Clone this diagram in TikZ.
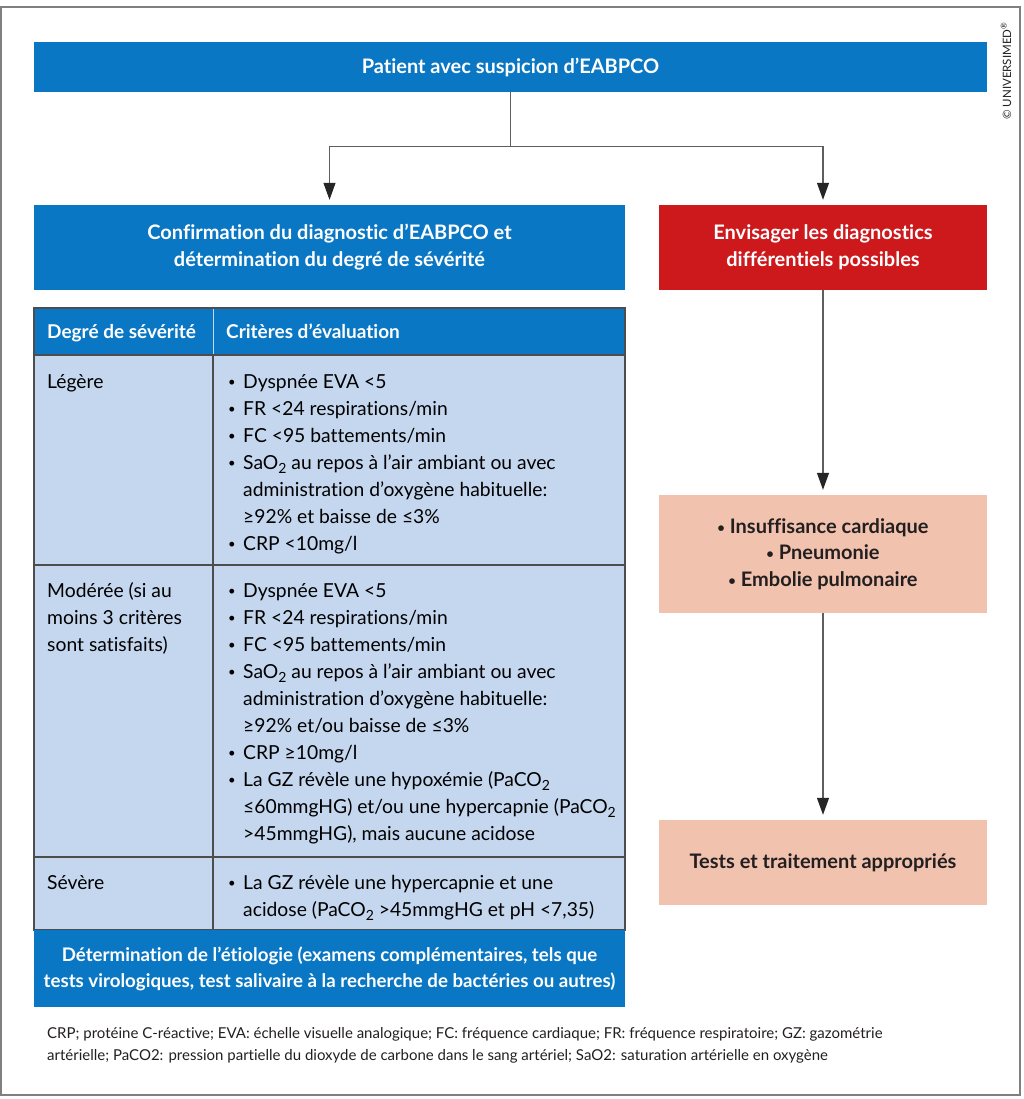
\documentclass[tikz,border=0pt]{standalone}
\usepackage{fontspec}
\setmainfont{Lato}[Ligatures=CommonOff]
\usetikzlibrary{arrows.meta}

\definecolor{hdblue}{HTML}{0A77C4}
\definecolor{cellblue}{HTML}{C5D7EF}
\definecolor{diffred}{HTML}{CD181C}
\definecolor{salmon}{HTML}{F1C2AE}
\definecolor{rulegray}{HTML}{4D4D4D}
\definecolor{linkgray}{HTML}{5E5E5E}
\definecolor{darktext}{HTML}{231F20}

\newcommand{\lowtwo}{\raisebox{-0.45ex}{\fontsize{14}{14}\selectfont 2}}
\newcommand{\smalldot}{\raisebox{0.12ex}{\fontsize{13}{13}\selectfont •}}
\newcommand{\bul}{\makebox[15pt][l]{\smalldot}}
\newcommand{\ind}{\hspace*{15pt}}
\newcommand{\celllines}[1]{\begin{tabular}[t]{@{}l@{}}#1\end{tabular}}

\begin{document}
\begin{tikzpicture}
    [
      x=1pt, y=-1pt,
      every node/.style={inner sep=0pt},
      titlefont/.style={font=\bfseries\fontsize{20}{27}\selectfont},
      bluebox/.style={titlefont, fill=hdblue, text=white, align=center},
      redbox/.style={titlefont, fill=diffred, text=white, align=center},
      pinkbox/.style={titlefont, fill=salmon, text=darktext, align=center},
      celltext/.style={font=\fontsize{19.3}{27}\selectfont, anchor=base west, text=black},
      headtext/.style={font=\bfseries\fontsize{19}{27}\selectfont, text=white, anchor=base west},
      cellrule/.style={draw=rulegray, line width=1.4pt},
      link/.style={draw=linkgray, line width=1.1pt},
      flow/.style={link, -{Triangle[length=17pt,width=12pt,color=black!85]}, shorten >=5pt},
    ]
    \useasboundingbox (0,0) rectangle (1024,1099);
    \draw[gray, line width=1.2pt] (1,7) rectangle (1020,1095);

    \node[rotate=90, font=\fontsize{11.5}{11.5}\selectfont, text=darktext] (copy) at (1006,71) {© UNIVERSIMED\textsuperscript{®}};

    % boxes
    \node[bluebox, minimum width=953pt, minimum height=50pt] (suspicion) at (510.5,67) {Patient avec suspicion d’EABPCO};
    \node[bluebox, minimum width=591pt, minimum height=85pt] (confirm) at (329.5,247.5)
      {Confirmation du diagnostic d’EABPCO et\\détermination du degré de sévérité};
    \node[redbox, minimum width=328pt, minimum height=85pt] (differ) at (823,247.5)
      {Envisager les diagnostics\\différentiels possibles};
    \node[pinkbox, minimum width=328pt, minimum height=118pt, font=\bfseries\fontsize{20}{26.5}\selectfont] (diag) at (823,554)
      {\smalldot\ Insuffisance cardiaque\\\smalldot\ Pneumonie\\\smalldot\ Embolie pulmonaire};
    \node[pinkbox, minimum width=328pt, minimum height=85pt] (tests) at (823,862.5) {Tests et traitement appropriés};

    % connectors
    \coordinate (split) at ([yshift=-54pt]suspicion.south);
    \draw[link] (suspicion.south) -- (split);
    \draw[flow] (split) -| (confirm.north);
    \draw[flow] (split) -| (differ.north);
    \draw[flow] (differ.south) -- (diag.north);
    \draw[flow] (diag.south) -- (tests.north);

    % table
    \fill[cellblue] (34,355) rectangle (625,930);
    \fill[hdblue] (34,308) rectangle (625,355);
    \draw[cellblue, line width=1pt] (213,308) -- (213,355);
    \draw[cellrule] (213,355) -- (213,930);
    \draw[cellrule] (34,355) -- (625,355);
    \draw[cellrule] (34,565) -- (625,565);
    \draw[cellrule] (34,857) -- (625,857);
    \draw[cellrule] (34,308) rectangle (625,930);

    \node[headtext] (hdsev) at (47,338) {Degré de sévérité};
    \node[headtext] (hdcrit) at (226,338) {Critères d’évaluation};

    \node[celltext] (legere) at (47,388) {Légère};
    \node[celltext] (legerecrit) at (228,388)
      {\celllines{\bul Dyspnée EVA <5\\
       \bul FR <24 respirations/min\\
       \bul FC <95 battements/min\\
       \bul SaO\lowtwo{} au repos à l’air ambiant ou avec\\
       \ind administration d’oxygène habituelle:\\
       \ind ≥92\% et baisse de ≤3\%\\
       \bul CRP <10mg/l}};

    \node[celltext] (moderee) at (47,597) {\celllines{Modérée (si au\\moins 3 critères\\sont satisfaits)}};
    \node[celltext] (modereecrit) at (228,597)
      {\celllines{\bul Dyspnée EVA <5\\
       \bul FR <24 respirations/min\\
       \bul FC <95 battements/min\\
       \bul SaO\lowtwo{} au repos à l’air ambiant ou avec\\
       \ind administration d’oxygène habituelle:\\
       \ind ≥92\% et/ou baisse de ≤3\%\\
       \bul CRP ≥10mg/l\\
       \bul La GZ révèle une hypoxémie (PaCO\lowtwo\\
       \ind ≤60mmgHG) et/ou une hypercapnie (PaCO\lowtwo\\
       \ind >45mmgHG), mais aucune acidose}};

    \node[celltext] (severe) at (47,889) {Sévère};
    \node[celltext] (severecrit) at (228,889)
      {\celllines{\bul La GZ révèle une hypercapnie et une\\
       \ind acidose (PaCO\lowtwo{} >45mmgHG et pH <7,35)}};

    \node[bluebox, minimum width=591pt, minimum height=77pt, font=\bfseries\fontsize{18.7}{26}\selectfont] (etiol) at (329.5,968.5)
      {Détermination de l’étiologie (examens complémentaires, tels que\\tests virologiques, test salivaire à la recherche de bactéries ou autres)};

    % legend
    \node[anchor=base west, font=\fontsize{15}{22}\selectfont, text=darktext] (legend) at (47,1038)
      {\celllines{CRP; protéine C-réactive; EVA: échelle visuelle analogique; FC: fréquence cardiaque; FR: fréquence respiratoire; GZ: gazométrie\\
       artérielle; PaCO2: pression partielle du dioxyde de carbone dans le sang artériel; SaO2: saturation artérielle en oxygène}};
  \end{tikzpicture}
\end{document}
